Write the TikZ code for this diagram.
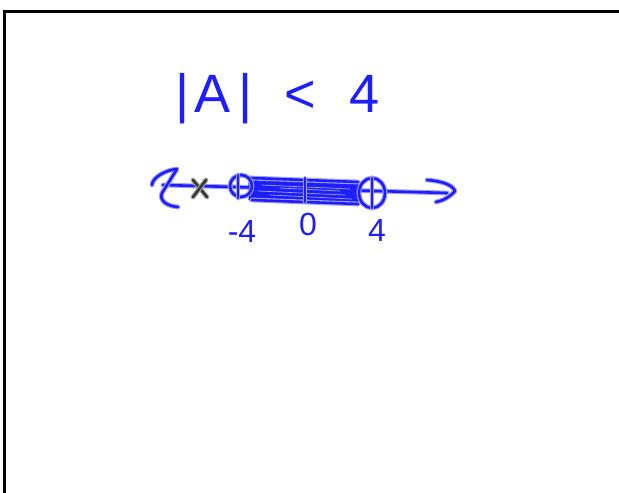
\documentclass[tikz,border=0pt]{standalone}
\usepackage{fontspec}
\setmainfont{Liberation Sans}
\definecolor{penblue}{RGB}{30,30,250}
\definecolor{penhalo}{RGB}{160,160,245}
\definecolor{pengray}{RGB}{55,55,55}
\definecolor{grayhalo}{RGB}{165,165,165}

\begin{document}
\begin{tikzpicture}[x=1pt, y=-1pt,
  pen/.style={draw=penhalo, double=penblue, double distance=2.6pt, line width=1.1pt, line cap=round, line join=round},
  graypen/.style={pen, draw=grayhalo, double=pengray},
  hand/.style={text=penblue, inner sep=0pt}]
  \useasboundingbox (0,0) rectangle (619,493);
  % board edge
  \draw[line width=3pt] (4,493) -- (4,11) -- (619,11);
  % inequality
  \node[hand, font=\fontsize{54}{54}\selectfont, anchor=base west] (title) at (175,112)
    {|\hspace{5pt}A\hspace{8pt}|\hspace{32pt}<\hspace{34pt}4};
  % number line
  \coordinate (axl) at (163,185);
  \coordinate (axr) at (447,193);
  \draw[pen] (axl) -- (axr);
  \draw[pen] (152,185) .. controls (152,178) and (165,170) .. (177,169)
    -- (162,193)
    .. controls (159,200) and (166,206) .. (178,207);
  \draw[pen] (427,180) .. controls (440,181) and (452,184) .. (455,191)
    .. controls (450,197) and (442,201) .. (436,202);
  % shaded interval
  \foreach \a/\b in {179/183,181/185,183/187,185/189,187/191,189/193,191/195,193/197,195/199,197/201,199/203} {
    \draw[pen, draw=penblue, line width=0.6pt] (250,\a) -- (358,\b);
  }
  \draw[pen] (250,178) -- (358,182);
  \draw[pen] (252,200) -- (358,204);
  \foreach \x/\a/\y/\b in {262/185/350/189,258/191/345/195,270/195/352/199,280/188/340/191} {
    \draw[penhalo, line width=0.7pt, line cap=round] (\x,\a) -- (\y,\b);
  }
  % endpoints and ticks
  \coordinate (neg) at (241,186);
  \coordinate (zero) at (305,190);
  \coordinate (pos) at (372,193);
  \draw[pen] (neg) ellipse [x radius=11, y radius=11];
  \draw[pen] (238,175) -- (238,198);
  \draw[pen, line width=0.5pt] (305,178) -- (305,202);
  \draw[pen] (pos) ellipse [x radius=13, y radius=15];
  \draw[pen] (372,178) -- (372,208);
  % excluded point
  \draw[graypen] (193,180) -- (207,197);
  \draw[graypen] (206,180) -- (193,197);
  % labels
  \node[hand, font=\fontsize{32}{32}\selectfont] (lblneg) at (242,231) {-4};
  \node[hand, font=\fontsize{32}{32}\selectfont] (lblzero) at (308,224) {0};
  \node[hand, font=\fontsize{32}{32}\selectfont] (lblpos) at (377,230) {4};
\end{tikzpicture}
\end{document}
